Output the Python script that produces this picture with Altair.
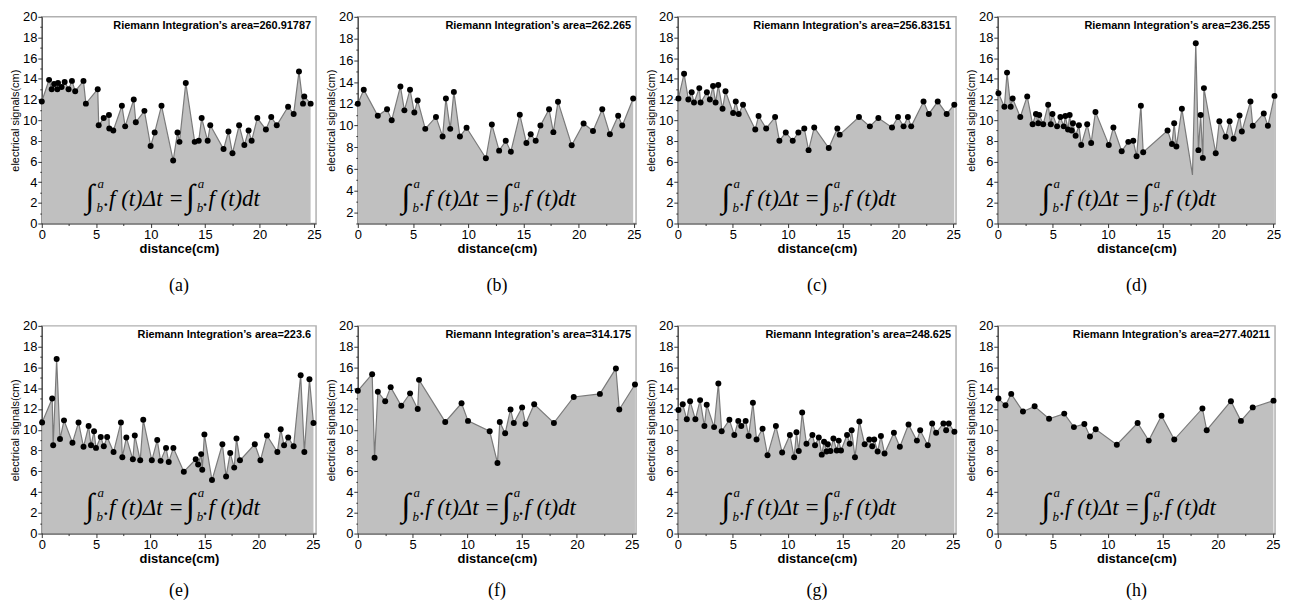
import altair as alt
import pandas as pd

# ---------------- data ----------------
xa = [0.0, 0.67, 0.91, 1.13, 1.43, 1.49, 1.82, 2.10, 2.46, 2.77, 3.07, 3.83, 4.05, 5.14, 5.23, 5.69, 6.17, 6.20, 6.57, 7.36, 7.66, 8.45, 8.64, 9.43, 10.0, 10.37, 11.0, 12.07, 12.47, 12.65, 13.23, 14.05, 14.42, 14.69, 15.24, 15.48, 16.7, 17.15, 17.52, 18.13, 18.61, 19.0, 19.28, 19.8, 20.59, 21.08, 21.59, 22.63, 23.14, 23.63, 24.0, 24.12, 24.7]
ya = [11.8, 13.9, 13.0, 13.5, 13.0, 13.6, 13.2, 13.7, 13.0, 13.8, 12.8, 13.8, 11.6, 13.0, 9.5, 10.2, 10.5, 9.2, 9.0, 11.4, 9.4, 12.0, 9.8, 10.9, 7.5, 8.8, 11.4, 6.1, 8.8, 7.9, 13.6, 7.9, 8.0, 10.2, 8.0, 9.5, 7.2, 8.9, 6.8, 9.5, 7.6, 9.0, 8.0, 10.2, 9.1, 10.3, 9.5, 11.3, 10.6, 14.7, 11.6, 12.3, 11.6]

xb = [0.0, 0.54, 1.81, 2.65, 3.07, 3.86, 4.22, 4.73, 5.12, 5.42, 6.11, 7.08, 7.68, 7.98, 8.37, 8.7, 9.25, 9.85, 11.6, 12.14, 12.8, 13.4, 13.86, 14.67, 15.27, 15.66, 16.11, 16.54, 17.32, 17.71, 18.13, 19.37, 20.45, 21.3, 22.14, 22.83, 23.58, 23.95, 24.94]
yb = [12.0, 13.3, 10.9, 11.5, 10.5, 13.6, 11.4, 13.3, 11.2, 12.3, 9.7, 10.8, 9.0, 12.5, 9.7, 13.1, 9.0, 9.8, 7.0, 10.1, 7.7, 8.6, 7.6, 11.0, 8.4, 9.2, 8.6, 10.0, 11.5, 9.4, 12.2, 8.2, 10.2, 9.5, 11.5, 9.2, 10.9, 10.0, 12.5]

xc = [0.06, 0.57, 0.96, 1.26, 1.47, 1.95, 2.07, 2.64, 2.91, 3.2, 3.43, 3.67, 4.06, 4.33, 5.02, 5.26, 5.53, 5.92, 7.03, 7.33, 8.02, 8.83, 9.22, 9.8, 10.43, 10.94, 11.48, 11.87, 12.38, 13.7, 14.48, 14.69, 16.44, 17.43, 18.2, 19.44, 19.98, 20.49, 20.88, 21.18, 22.3, 22.78, 23.59, 24.4, 25.09]
yc = [12.1, 14.5, 12.0, 12.7, 11.7, 13.1, 11.7, 12.7, 12.0, 13.3, 11.7, 13.4, 11.1, 12.8, 10.7, 11.8, 10.6, 11.5, 9.1, 10.4, 9.2, 10.3, 8.0, 8.8, 8.0, 8.8, 9.2, 7.1, 9.3, 7.3, 9.2, 8.6, 10.3, 9.4, 10.2, 9.3, 10.3, 9.4, 10.3, 9.4, 11.8, 10.6, 11.8, 10.6, 11.5]

xd = [0.06, 0.6, 0.84, 1.17, 1.35, 2.04, 2.67, 3.16, 3.46, 3.67, 3.76, 4.12, 4.57, 4.81, 4.96, 5.38, 5.68, 5.98, 6.13, 6.37, 6.52, 6.7, 6.82, 7.06, 7.36, 7.57, 8.11, 8.47, 8.86, 10.07, 10.49, 11.24, 11.84, 12.29, 12.59, 12.98, 13.19, 15.4, 15.8, 16.0, 16.2, 16.7, 17.66, 17.96, 18.2, 18.4, 18.6, 18.7, 19.77, 20.1, 20.67, 21.03, 21.39, 21.93, 22.14, 22.92, 23.13, 24.13, 24.5, 25.1]
yd = [12.6, 11.3, 14.6, 11.3, 12.1, 10.3, 12.3, 9.6, 10.6, 9.7, 10.5, 9.6, 11.5, 9.6, 10.6, 9.4, 10.3, 9.4, 10.4, 9.1, 10.5, 9.0, 9.7, 8.5, 9.5, 7.6, 9.6, 7.8, 10.8, 7.6, 9.3, 7.0, 7.9, 8.0, 6.5, 11.4, 6.9, 9.0, 7.7, 9.7, 7.45, 11.1, 4.7, 17.45, 7.1, 10.5, 6.35, 13.1, 6.8, 9.9, 8.4, 9.9, 8.2, 10.45, 8.9, 11.8, 9.45, 10.65, 9.45, 12.35]
nodot_d = [17.66]  # line vertex drawn without a marker

xe = [0.03, 0.96, 1.05, 1.37, 1.68, 2.05, 2.83, 3.39, 3.85, 4.32, 4.54, 4.82, 5.0, 5.44, 5.72, 6.03, 6.62, 7.3, 7.43, 7.8, 8.4, 8.58, 9.08, 9.36, 10.15, 10.65, 10.96, 11.46, 11.71, 12.14, 13.1, 14.2, 14.42, 14.7, 14.8, 15.0, 15.7, 16.66, 17.0, 17.38, 17.75, 17.96, 18.28, 19.65, 20.17, 20.77, 21.73, 22.04, 22.35, 22.73, 23.23, 23.88, 24.22, 24.69, 25.06]
ye = [10.7, 13.0, 8.5, 16.8, 9.1, 10.9, 8.75, 10.7, 8.35, 10.35, 8.5, 9.85, 8.25, 9.3, 8.4, 9.3, 7.85, 10.7, 7.35, 9.25, 7.15, 9.45, 7.05, 10.95, 7.05, 9.0, 7.0, 8.25, 6.9, 8.25, 5.95, 7.15, 6.65, 7.65, 6.15, 9.55, 5.15, 8.6, 5.5, 7.75, 6.35, 9.15, 7.05, 8.6, 7.05, 9.45, 7.85, 10.05, 8.5, 9.25, 8.4, 15.25, 7.85, 14.85, 10.65]

xf = [0.0, 1.31, 1.53, 1.83, 2.5, 3.0, 3.97, 4.77, 5.47, 5.59, 7.98, 9.47, 10.06, 12.04, 12.75, 12.96, 13.45, 13.94, 14.24, 15.0, 15.31, 16.1, 17.9, 19.71, 22.1, 23.56, 23.87, 25.3]
yf = [13.75, 15.35, 7.3, 13.65, 12.75, 14.1, 12.3, 13.5, 12.0, 14.8, 10.75, 12.55, 10.85, 9.85, 6.8, 10.75, 9.65, 11.95, 10.65, 12.15, 10.55, 12.45, 10.65, 13.15, 13.45, 15.9, 11.95, 14.35]

xg = [0.06, 0.45, 0.82, 1.12, 1.6, 2.03, 2.42, 2.63, 3.3, 3.69, 3.99, 4.69, 5.14, 5.5, 5.77, 6.17, 6.44, 6.83, 7.16, 7.71, 8.16, 8.92, 9.49, 10.19, 10.58, 10.79, 11.0, 11.31, 11.7, 12.24, 12.48, 12.82, 13.09, 13.3, 13.52, 13.64, 13.88, 14.15, 14.45, 14.63, 14.84, 15.39, 15.63, 15.81, 16.11, 16.51, 16.99, 17.41, 17.68, 17.86, 18.17, 18.47, 18.8, 19.65, 20.19, 20.98, 21.74, 22.04, 22.73, 23.13, 23.49, 24.15, 24.4, 24.64, 25.15]
yg = [11.9, 12.45, 11.0, 12.75, 11.0, 12.85, 10.35, 12.4, 10.25, 14.45, 9.85, 10.95, 9.5, 10.85, 10.35, 10.85, 9.4, 12.6, 9.05, 10.1, 7.55, 10.35, 7.8, 9.5, 7.35, 9.75, 7.95, 11.65, 8.65, 9.5, 8.5, 9.25, 7.6, 8.85, 7.9, 8.6, 7.95, 9.15, 8.0, 8.95, 8.0, 9.5, 8.65, 9.95, 7.35, 10.8, 8.6, 9.05, 8.4, 9.05, 7.9, 9.4, 7.7, 9.7, 8.35, 10.5, 8.95, 9.95, 8.5, 10.6, 9.7, 10.6, 9.95, 10.6, 9.8]

xh = [0.06, 0.7, 1.22, 2.29, 3.35, 4.66, 6.04, 6.92, 7.87, 8.38, 8.9, 10.82, 12.71, 13.72, 14.88, 16.04, 18.6, 18.99, 21.19, 22.1, 23.17, 25.06]
yh = [13.0, 12.35, 13.45, 11.75, 12.25, 11.05, 11.55, 10.25, 10.55, 9.35, 10.05, 8.55, 10.65, 8.95, 11.35, 9.05, 12.05, 9.95, 12.75, 10.85, 12.15, 12.8]

captions = ["(a)", "(b)", "(c)", "(d)", "(e)", "(f)", "(g)", "(h)"]
areas = ["260.91787", "262.265", "256.83151", "236.255", "223.6", "314.175", "248.625", "277.40211"]
y_mins = [0, 1, 0, 0, 0, 0, 0, 0]
x_maxs = [25.2, 25.2, 25.25, 25.15, 25.3, 25.4, 25.3, 25.2]

xs = [xa, xb, xc, xd, xe, xf, xg, xh]
ys = [ya, yb, yc, yd, ye, yf, yg, yh]

# ---------------- layout / style ----------------
COL_W = [276, 280, 280, 279]
ROW_H = [208, 209]
CAP_OFF = [22, 17]
SANS = "Liberation Sans"
SERIF = "Liberation Serif"


def one_text(text, px, py, size, style="normal", weight="normal", font=SERIF,
             align="left", baseline="alphabetic"):
    return alt.Chart(alt.Data(values=[{"k": 0}])).mark_text(
        text=text, font=font, fontSize=size, fontStyle=style, fontWeight=weight,
        align=align, baseline=baseline, color="black"
    ).encode(x=alt.value(px), y=alt.value(py))


def panel(k):
    x, y = xs[k], ys[k]
    dots = [True] * len(x)
    if k == 3:
        for j, v in enumerate(x):
            if v in nodot_d:
                dots[j] = False
    df = pd.DataFrame({"x": x, "y": y, "dot": dots})
    w = COL_W[k % 4]
    h = ROW_H[k // 4]
    ymin = y_mins[k]

    xaxis = alt.Axis(
        title="distance(cm)", values=[i * 2.5 for i in range(11)],
        labelExpr="datum.value % 5 == 0 ? datum.label : ''",
        tickSize={"condition": {"test": "datum.value % 5 == 0", "value": 4}, "value": 2},
        labelFontSize=13, labelPadding=1, labelOverlap=False, labelFlush=False,
        titleFontSize=13, titleFontWeight="bold", titlePadding=1,
    )
    yaxis = alt.Axis(
        title="electrical signals(cm)", values=list(range(ymin, 21)),
        labelExpr="datum.value % 2 == 0 ? datum.label : ''",
        tickSize={"condition": {"test": "datum.value % 2 == 0", "value": 4}, "value": 2},
        labelFontSize=13, labelPadding=1, labelOverlap=False, labelFlush=False,
        titleFontSize=11, titleFontWeight="normal", titlePadding=2,
    )
    X = alt.X("x:Q", scale=alt.Scale(domain=[0, x_maxs[k]], nice=False, zero=False), axis=xaxis)
    Y = alt.Y("y:Q", scale=alt.Scale(domain=[ymin, 20], nice=False, zero=False), axis=yaxis)

    base = alt.Chart(df)
    area = base.mark_area(color="#c0c0c0", opacity=1, clip=True).encode(
        x=X, y=Y, y2=alt.datum(ymin))
    line = base.mark_line(color="#7a7a7a", strokeWidth=1.2, clip=True).encode(x=X, y=Y)
    pts = base.mark_circle(color="black", size=36, opacity=1).transform_filter(
        "datum.dot").encode(x=X, y=Y)

    texts = [
        one_text("Riemann Integration\u2019s area=" + areas[k], w - 5, 9, 11,
                 weight="bold", font=SANS, align="right", baseline="middle"),
        one_text("\u222b", 44, 191, 33),
        one_text("a", 56, 172, 13, style="italic"),
        one_text("b", 55, 196, 13, style="italic"),
        one_text(".f (t)\u0394t =", 62, 190, 23, style="italic"),
        one_text("\u222b", 145, 191, 33),
        one_text("a", 157, 172, 13, style="italic"),
        one_text("b", 156, 196, 13, style="italic"),
        one_text(".f (t)dt", 162, 190, 23, style="italic"),
    ]

    return alt.layer(area, line, pts, *texts).properties(
        width=w, height=h,
        title=alt.TitleParams(captions[k], orient="bottom", font=SERIF, fontSize=18,
                              fontWeight="normal", offset=CAP_OFF[k // 4],
                              anchor="middle", color="black"),
    )


chart = alt.concat(
    *[panel(k) for k in range(8)], columns=4,
    spacing={"row": 103, "column": 42}, bounds="flush",
).configure_view(
    stroke="#b0b0b0", strokeWidth=1.5
).configure_axis(
    labelFont=SANS, titleFont=SANS, labelColor="black", titleColor="black",
    domainColor="#333333", tickColor="#333333", grid=False,
).properties(padding=0)

chart.save("out.html", embed_options={"renderer": "svg", "actions": False})
